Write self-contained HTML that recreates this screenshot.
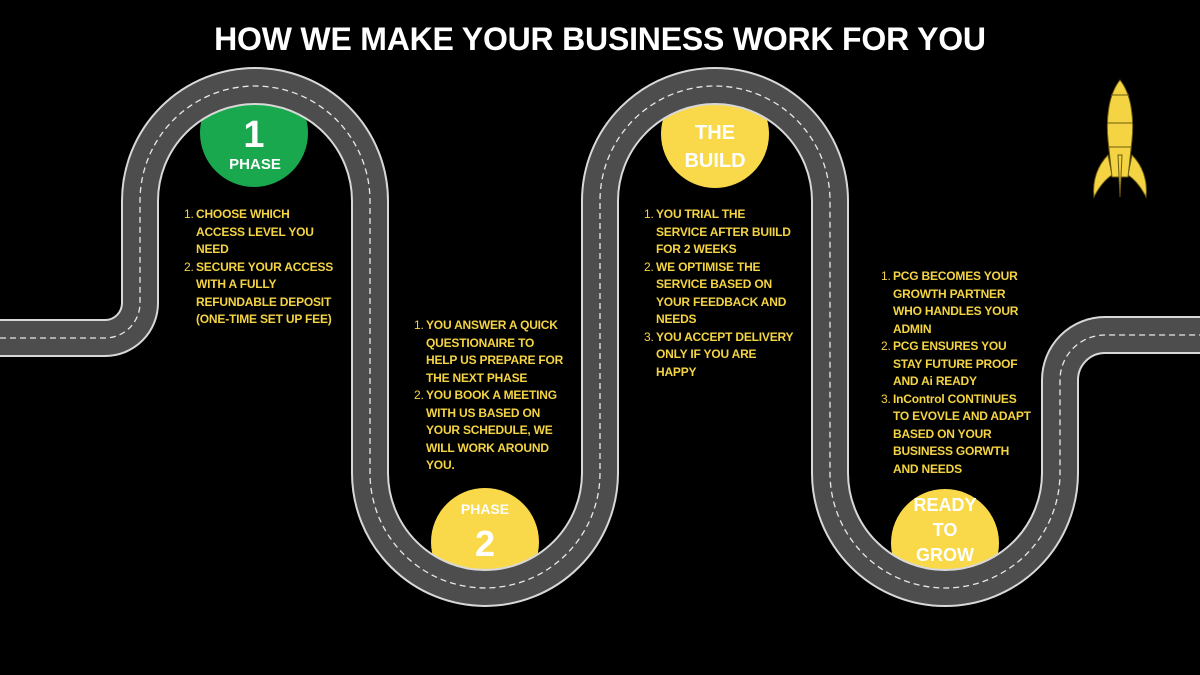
<!DOCTYPE html>
<html><head><meta charset="utf-8"><style>
html,body{margin:0;padding:0;background:#000;}
#c{position:relative;width:1200px;height:675px;overflow:hidden;background:#000;font-family:"Liberation Sans",Arial,sans-serif;}
h1{position:absolute;left:0;top:21px;width:1200px;text-align:center;margin:0;color:#fff;font-size:32px;font-weight:bold;letter-spacing:-0.2px;}
.l{position:absolute;color:#f4d443;font-weight:bold;font-size:12px;line-height:17.5px;letter-spacing:-0.2px;}
.l div{position:relative;padding-left:12px;white-space:nowrap;}
.l div span{position:absolute;left:0;top:0;font-weight:normal;}
svg{position:absolute;left:0;top:0;}
</style></head><body><div id="c">
<svg width="1200" height="675" viewBox="0 0 1200 675">
<circle cx="254" cy="133" r="54" fill="#1aa84f"/>
<circle cx="715" cy="134" r="54" fill="#f9d949"/>
<circle cx="485" cy="542" r="54" fill="#f9d949"/>
<circle cx="945" cy="543" r="54" fill="#f9d949"/>
<g fill="none">
<path d="M0,338 H105 A35,35 0 0 0 140,303 V201 A115,115 0 0 1 370,201 V473 A115,115 0 0 0 600,473 V201 A115,115 0 0 1 830,201 V473 A115,115 0 0 0 1060,473 V380 A45,45 0 0 1 1105,335 H1200" stroke="#d8d8d8" stroke-width="38"/>
<path d="M0,338 H105 A35,35 0 0 0 140,303 V201 A115,115 0 0 1 370,201 V473 A115,115 0 0 0 600,473 V201 A115,115 0 0 1 830,201 V473 A115,115 0 0 0 1060,473 V380 A45,45 0 0 1 1105,335 H1200" stroke="#4d4d4d" stroke-width="34"/>
<path d="M0,338 H105 A35,35 0 0 0 140,303 V201 A115,115 0 0 1 370,201 V473 A115,115 0 0 0 600,473 V201 A115,115 0 0 1 830,201 V473 A115,115 0 0 0 1060,473 V380 A45,45 0 0 1 1105,335 H1200" stroke="#e8e8e8" stroke-width="1.3" stroke-dasharray="6 4"/>
</g>
<g fill="#fff" font-family="Liberation Sans,Arial,sans-serif" font-weight="bold" text-anchor="middle">
<text x="254" y="147" font-size="38">1</text>
<text x="255" y="169" font-size="15">PHASE</text>
<text x="715" y="139" font-size="20">THE</text>
<text x="715" y="167" font-size="20">BUILD</text>
<text x="485" y="514" font-size="14">PHASE</text>
<text x="485" y="556" font-size="36">2</text>
<text x="945" y="511" font-size="18">READY</text>
<text x="945" y="536" font-size="18">TO</text>
<text x="945" y="561" font-size="18">GROW</text>
</g>
<g transform="translate(1120,135)" fill="#f4d443" stroke="#6b5a10" stroke-width="1">
<path d="M-12,20 C-22,30 -28,45 -26,62 C-20,50 -14,44 -8,40 Z"/>
<path d="M12,20 C22,30 28,45 26,62 C20,50 14,44 8,40 Z"/>
<path d="M0,-55 C-12,-40 -14,-15 -12,5 L-8,42 L8,42 L12,5 C14,-15 12,-40 0,-55 Z"/>
<path d="M-2,20 L0,62 L2,20 Z"/>
<path d="M-13,-12 H13 M-12,12 H12 M-9,-40 H9" fill="none"/>
</g>
</svg>
<h1>HOW WE MAKE YOUR BUSINESS WORK FOR YOU</h1>
<div class="l" style="left:184px;top:206px;">
<div><span>1.</span>CHOOSE WHICH</div><div>ACCESS LEVEL YOU</div><div>NEED</div>
<div><span>2.</span>SECURE YOUR ACCESS</div><div>WITH A FULLY</div><div>REFUNDABLE DEPOSIT</div><div>(ONE-TIME SET UP FEE)</div>
</div>
<div class="l" style="left:414px;top:317px;">
<div><span>1.</span>YOU ANSWER A QUICK</div><div>QUESTIONAIRE TO</div><div>HELP US PREPARE FOR</div><div>THE NEXT PHASE</div>
<div><span>2.</span>YOU BOOK A MEETING</div><div>WITH US BASED ON</div><div>YOUR SCHEDULE, WE</div><div>WILL WORK AROUND</div><div>YOU.</div>
</div>
<div class="l" style="left:644px;top:206px;">
<div><span>1.</span>YOU TRIAL THE</div><div>SERVICE AFTER BUIILD</div><div>FOR 2 WEEKS</div>
<div><span>2.</span>WE OPTIMISE THE</div><div>SERVICE BASED ON</div><div>YOUR FEEDBACK AND</div><div>NEEDS</div>
<div><span>3.</span>YOU ACCEPT DELIVERY</div><div>ONLY IF YOU ARE</div><div>HAPPY</div>
</div>
<div class="l" style="left:881px;top:268px;">
<div><span>1.</span>PCG BECOMES YOUR</div><div>GROWTH PARTNER</div><div>WHO HANDLES YOUR</div><div>ADMIN</div>
<div><span>2.</span>PCG ENSURES YOU</div><div>STAY FUTURE PROOF</div><div>AND Ai READY</div>
<div><span>3.</span>InControl CONTINUES</div><div>TO EVOVLE AND ADAPT</div><div>BASED ON YOUR</div><div>BUSINESS GORWTH</div><div>AND NEEDS</div>
</div>
</div></body></html>
